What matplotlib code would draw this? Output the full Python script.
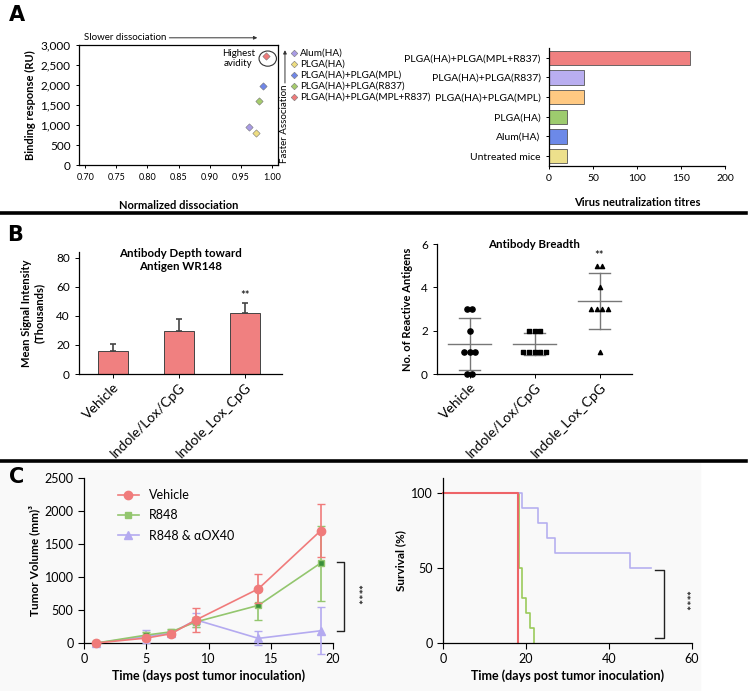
import numpy as np
import matplotlib.pyplot as plt
from matplotlib.patches import Ellipse, Rectangle
from matplotlib.lines import Line2D

plt.rcParams['font.family'] = ['Lato', 'DejaVu Sans']
plt.rcParams['axes.linewidth'] = 0.9
plt.rcParams['xtick.major.size'] = 3
plt.rcParams['ytick.major.size'] = 3

# ---- A: avidity scatter ----
avid_groups = ['Alum(HA)', 'PLGA(HA)', 'PLGA(HA)+PLGA(MPL)', 'PLGA(HA)+PLGA(R837)', 'PLGA(HA)+PLGA(MPL+R837)']
avid_dissoc = [0.964, 0.975, 0.986, 0.980, 0.991]
avid_binding = [960, 790, 1980, 1610, 2730]
avid_colors = ['#a99be6', '#eedd80', '#6f86e8', '#a6cc6c', '#f07a7a']

# ---- A: neutralization titres ----
titre_groups = ['Untreated mice', 'Alum(HA)', 'PLGA(HA)', 'PLGA(HA)+PLGA(MPL)',
                'PLGA(HA)+PLGA(R837)', 'PLGA(HA)+PLGA(MPL+R837)']
titre_values = [20, 20, 20, 40, 40, 160]
titre_colors = ['#ede08c', '#6c89e8', '#9dcb6e', '#ffc982', '#b9aef0', '#f08080']

# ---- B ----
b_groups = ['Vehicle', 'Indole/Lox/CpG', 'Indole_Lox_CpG']
depth_mean = [16, 29.7, 42.3]
depth_err = [4.5, 8, 6.7]
breadth_vehicle = [3, 3, 2, 1, 1, 1, 0, 0]
breadth_ilc_slash = [2, 2, 2, 1, 1, 1, 1, 1]
breadth_ilc_under = [5, 5, 4, 3, 3, 3, 3, 1]

# ---- C: tumor volume ----
days = [1, 5, 7, 9, 14, 19]
vol_vehicle = [0, 75, 140, 350, 820, 1700]
err_vehicle = [0, 30, 30, 180, 220, 400]
vol_r848 = [0, 120, 170, 320, 570, 1210]
err_r848 = [0, 40, 40, 80, 220, 570]
vol_ox40 = [0, 100, 150, 350, 70, 185]
err_ox40 = [0, 100, 40, 100, 105, 355]

# ---- C: survival ----
surv_t_vehicle = [0, 18]
surv_vehicle = [100, 0]
surv_t_r848 = [0, 18.4, 19, 20, 21, 22]
surv_r848 = [100, 50, 30, 20, 10, 0]
surv_t_ox40 = [0, 19, 23, 25, 27, 45, 50]
surv_ox40 = [100, 90, 80, 70, 60, 50, 50]

W, H = 750, 691
fig = plt.figure(figsize=(7.5, 6.91), dpi=100)


def px_axes(l, t, r, b):
    return fig.add_axes([l / W, 1 - b / H, (r - l) / W, (b - t) / H])


# light background of panel C
fig.patches.append(Rectangle((0, 0), 700 / W, 1 - 463 / H, transform=fig.transFigure,
                             color='#f9f9f9', zorder=-10))

# separators
for yy in [213.5, 461]:
    fig.add_artist(Line2D([0.0, 0.995], [1 - yy / H] * 2, color='black', lw=2.6,
                          transform=fig.transFigure))

# panel letters
for letter, lx, ly in [('A', 9, 5), ('B', 7, 225), ('C', 9, 467)]:
    fig.text(lx / W, 1 - ly / H, letter, fontsize=15, fontweight='bold', va='top',
             family='DejaVu Sans')

# ===== A left =====
ax = px_axes(79, 45, 278, 165)
for x, y, c, g in zip(avid_dissoc, avid_binding, avid_colors, avid_groups):
    ax.scatter(x, y, marker='D', s=14, color=c, edgecolor='#777777', linewidth=0.4, label=g, zorder=3)
ax.set_xlim(0.69, 1.01)
ax.set_ylim(0, 3000)
ax.set_xticks([0.70, 0.75, 0.80, 0.85, 0.90, 0.95, 1.00])
ax.set_xticklabels(['0.70', '0.75', '0.80', '0.85', '0.90', '0.95', '1.00'], fontsize=6.5)
ax.set_yticks(range(0, 3001, 500))
ax.set_yticklabels([f'{v:,}' for v in range(0, 3001, 500)], fontsize=8.5)
ax.tick_params(length=2.5, width=0.7)
ax.set_xlabel('Normalized dissociation', fontsize=8, fontweight='bold', labelpad=13)
ax.set_ylabel('Binding response (RU)', fontsize=8, fontweight='bold', labelpad=3)
ax.add_patch(Ellipse((0.9935, 2660), 0.028, 380, fill=False, edgecolor='#333333', lw=0.8, clip_on=False))
ax.text(0.884, 0.89, 'Highest\navidity', transform=ax.transAxes, fontsize=7,
        ha='right', va='center', multialignment='center')
ax.text(0.025, 1.06, 'Slower dissociation', transform=ax.transAxes, fontsize=7, va='center')
ax.annotate('', xy=(0.91, 1.06), xytext=(0.44, 1.06), xycoords='axes fraction',
            arrowprops=dict(arrowstyle='-|>', lw=0.7, color='#333333', mutation_scale=5),
            annotation_clip=False)
ax.annotate('', xy=(1.035, 0.98), xytext=(1.035, 0.66), xycoords='axes fraction',
            arrowprops=dict(arrowstyle='-|>', lw=0.7, color='#333333', mutation_scale=5),
            annotation_clip=False)
ax.text(1.035, 0.34, 'Faster Association', transform=ax.transAxes, fontsize=7,
        rotation=90, ha='center', va='center')
ax.legend(loc='upper left', bbox_to_anchor=(1.035, 1.0), frameon=False, fontsize=7.2,
          handletextpad=0.1, labelspacing=0.2, borderaxespad=0, handlelength=1.0,
          markerscale=0.9)

# ===== A right =====
ax = px_axes(549, 48, 725, 166)
pos = np.arange(len(titre_groups))
ax.barh(pos, titre_values, height=0.72, color=titre_colors, edgecolor='#555555', linewidth=0.6)
ax.set_yticks(pos)
ax.set_yticklabels(titre_groups, fontsize=7.5)
ax.set_ylim(-0.5, 5.5)
ax.set_xlim(0, 200)
ax.set_xticks([0, 50, 100, 150, 200])
ax.tick_params(labelsize=7.5, length=2.5, width=0.7)
ax.spines[['top', 'right']].set_visible(False)
ax.set_xlabel('Virus neutralization titres', fontsize=8, fontweight='bold', labelpad=10)

# ===== B left =====
ax = px_axes(79, 252, 282, 374)
xb = np.arange(3)
ax.bar(xb, depth_mean, width=0.45, color='#f08080', edgecolor='#444444', linewidth=0.7)
ax.errorbar(xb, depth_mean, yerr=[np.zeros(3), depth_err], fmt='none', ecolor='#444444',
            elinewidth=1.2, capsize=2.5, capthick=1.2)
ax.text(2, depth_mean[2] + depth_err[2] + 1.5, '**', ha='center', va='bottom', fontsize=8)
ax.set_xlim(-0.52, 2.56)
ax.set_ylim(0, 84)
ax.set_yticks([0, 20, 40, 60, 80])
ax.set_xticks(xb)
ax.set_xticklabels(b_groups, rotation=45, ha='right', rotation_mode='anchor', fontsize=10)
ax.tick_params(axis='y', labelsize=8.5, length=3, width=0.7)
ax.tick_params(axis='x', length=3, width=0.7, pad=2)
ax.spines[['top', 'right']].set_visible(False)
ax.set_ylabel('Mean Signal Intensity\n(Thousands)', fontsize=8, fontweight='bold', labelpad=8)
ax.text(0.5, 1.035, 'Antibody Depth toward\nAntigen WR148', transform=ax.transAxes,
        fontsize=8.3, fontweight='bold', ha='center', va='top', multialignment='center')

# ===== B right =====
ax = px_axes(437, 244, 632, 374)
breadth_sets = [breadth_vehicle, breadth_ilc_slash, breadth_ilc_under]
markers = ['o', 's', '^']
msizes = [14, 12, 9]
for i, vals in enumerate(breadth_sets):
    vals = np.array(vals)
    for v in np.unique(vals):
        n = np.sum(vals == v)
        off = (np.arange(n) - (n - 1) / 2) * 0.09
        ax.scatter(i + off, [v] * n, marker=markers[i], s=msizes[i], color='black', zorder=3,
                   clip_on=False)
    m, sd = vals.mean(), vals.std(ddof=1)
    ax.plot([i - 0.33, i + 0.33], [m, m], color='#777777', lw=1)
    ax.plot([i, i], [m - sd, m + sd], color='#777777', lw=1)
    for e in [m - sd, m + sd]:
        ax.plot([i - 0.16, i + 0.16], [e, e], color='#777777', lw=1)
ax.text(2, 5.2, '**', ha='center', va='bottom', fontsize=8)
ax.set_xlim(-0.5, 2.5)
ax.set_ylim(0, 6)
ax.set_yticks([0, 2, 4, 6])
ax.set_xticks(xb)
ax.set_xticklabels(b_groups, rotation=45, ha='right', rotation_mode='anchor', fontsize=10)
ax.tick_params(axis='y', labelsize=8.5, length=3, width=0.7)
ax.tick_params(axis='x', length=3, width=0.7, pad=2)
ax.spines[['top', 'right']].set_visible(False)
ax.set_ylabel('No. of Reactive Antigens', fontsize=8, fontweight='bold', labelpad=6)
ax.text(0.5, 1.0, 'Antibody Breadth', transform=ax.transAxes, fontsize=8.3,
        fontweight='bold', ha='center', va='center')

# ===== C left =====
ax = px_axes(84, 478, 333, 643)
ax.set_facecolor('none')
c_red, c_green, c_lav = '#f07b7b', '#93c66e', '#b4aaf0'
ax.errorbar(days, vol_ox40, yerr=err_ox40, color=c_lav, marker='^', ms=6, lw=1.2,
            capsize=3, elinewidth=1.2, clip_on=False, zorder=3)
ax.errorbar(days, vol_r848, yerr=err_r848, color=c_green, marker='s', ms=5, lw=1.2,
            mfc='#3a8f3a', mec=c_green, capsize=3, elinewidth=1.2, clip_on=False, zorder=4)
ax.errorbar(days, vol_vehicle, yerr=err_vehicle, color=c_red, marker='o', ms=6, lw=1.2,
            capsize=3, elinewidth=1.2, clip_on=False, zorder=5)
ax.set_xlim(0, 20)
ax.set_ylim(0, 2500)
ax.set_xticks([0, 5, 10, 15, 20])
ax.set_yticks([0, 500, 1000, 1500, 2000, 2500])
ax.tick_params(labelsize=9, length=4, width=0.8)
ax.spines[['top', 'right']].set_visible(False)
ax.set_xlabel('Time (days post tumor inoculation)', fontsize=9, fontweight='bold', labelpad=3)
ax.set_ylabel('Tumor Volume (mm)\u00b3', fontsize=8.5, fontweight='bold', labelpad=3)
handles = [Line2D([], [], color=c_red, marker='o', ms=6, lw=1.2),
           Line2D([], [], color=c_green, marker='s', ms=5, lw=1.2, mfc='#93c66e'),
           Line2D([], [], color=c_lav, marker='^', ms=6, lw=1.2)]
ax.legend(handles, ['Vehicle', 'R848', 'R848 & \u03b1OX40'], loc='upper left',
          bbox_to_anchor=(0.09, 1.0), frameon=False, fontsize=9, handlelength=1.7,
          labelspacing=0.65)
ax.plot([20.3, 20.9, 20.9, 20.3], [1230, 1230, 182, 182], color='#222222', lw=1, clip_on=False)
ax.text(21.8, 740, '****', rotation=270, ha='center', va='center', fontsize=9)

# ===== C right =====
ax = px_axes(443, 478, 692, 643)
ax.set_facecolor('none')
ax.step(surv_t_r848, surv_r848, where='post', color='#9bcb5b', lw=1.2, clip_on=False)
ax.step(surv_t_ox40, surv_ox40, where='post', color='#b6b0f0', lw=1.2, clip_on=False)
ax.step(surv_t_vehicle, surv_vehicle, where='post', color='#ee6468', lw=1.5, clip_on=False)
ax.set_xlim(0, 60)
ax.set_ylim(0, 110)
ax.set_xticks([0, 20, 40, 60])
ax.set_yticks([0, 50, 100])
ax.tick_params(labelsize=9, length=4, width=0.8)
ax.spines[['top', 'right']].set_visible(False)
ax.set_xlabel('Time (days post tumor inoculation)', fontsize=9, fontweight='bold', labelpad=3)
ax.set_ylabel('Survival (%)', fontsize=8.5, fontweight='bold', labelpad=3)
ax.plot([51, 53.2, 53.2, 51], [49, 49, 3.5, 3.5], color='#222222', lw=1, clip_on=False)
ax.text(57.8, 28, '****', rotation=270, ha='center', va='center', fontsize=9)

fig.savefig('out.png', dpi=100)
